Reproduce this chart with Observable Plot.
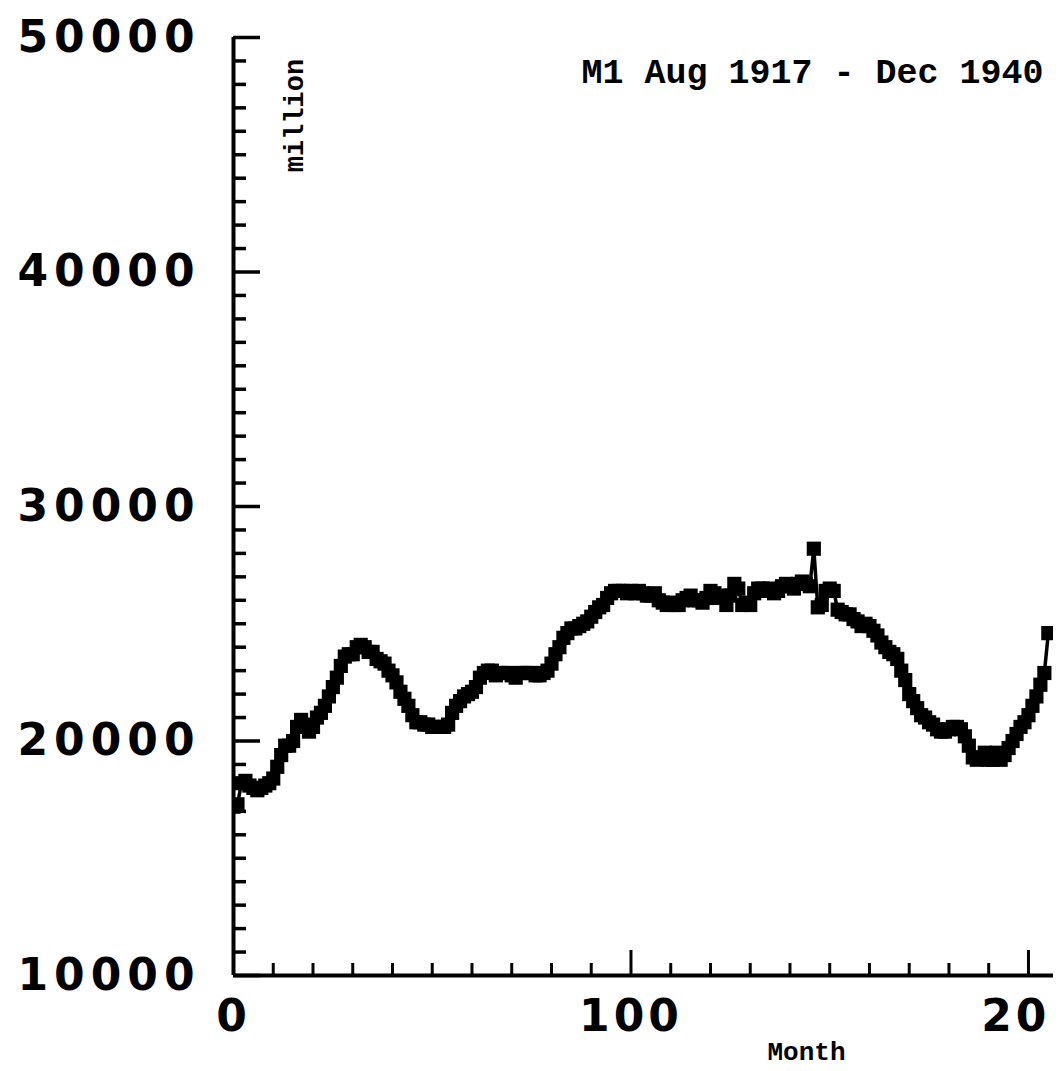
<!DOCTYPE html>
<html>
<head>
<meta charset="utf-8">
<script src="https://cdn.jsdelivr.net/npm/d3@7"></script>
<script src="https://cdn.jsdelivr.net/npm/@observablehq/plot@0.6"></script>
<style>
  body { margin: 0; background: #ffffff; }
  #chart svg { display: block; }
</style>
</head>
<body>
<div id="chart"></div>
<script>
// ---- Data ----
const title = "M1 Aug 1917 - Dec 1940";
const yLabel = "million";
const xLabel = "Month";

// M1 money stock, million, by month index (0 = Aug 1917)
const m1Values = [
  17200, 17300, 18200, 18300, 18100, 18000, 17900, 18000, 18100, 18200,
  18400, 18900, 19400, 19800, 19800, 20000, 20600, 20900, 20700, 20400,
  20600, 21000, 21200, 21500, 21900, 22300, 22700, 23200, 23600, 23700,
  23700, 24000, 24100, 24000, 23800, 23800, 23500, 23400, 23300, 23000,
  22800, 22500, 22100, 21800, 21500, 21100, 20800, 20800, 20700, 20700,
  20600, 20600, 20600, 20600, 20700, 21200, 21500, 21700, 21900, 22000,
  22100, 22300, 22700, 22900, 23000, 23000, 22800, 22900, 22900, 22900,
  22800, 22700, 22900, 22900, 22900, 22900, 22800, 22800, 22900, 23000,
  23300, 23700, 24000, 24400, 24600, 24800, 24800, 24900, 25000, 25100,
  25300, 25500, 25700, 25800, 26100, 26300, 26400, 26400, 26400, 26300,
  26400, 26300, 26400, 26300, 26200, 26200, 26300, 26000, 25900, 25800,
  25900, 25800, 25800, 26000, 26100, 26200, 26000, 26000, 25900, 26100,
  26400, 26300, 26100, 26200, 25800, 26200, 26700, 26500, 25800, 25900,
  25800, 26300, 26500, 26500, 26400, 26500, 26300, 26400, 26600, 26700,
  26600, 26500, 26700, 26800, 26700, 26600, 28200, 25700, 25800, 26400,
  26500, 26400, 25600, 25500, 25400, 25400, 25200, 25100, 24900, 25000,
  24900, 24700, 24500, 24200, 24000, 23800, 23700, 23500, 23000, 22600,
  22000, 21700, 21400, 21100, 21000, 20800, 20700, 20500, 20400, 20400,
  20500, 20600, 20600, 20500, 20200, 19800, 19300, 19200, 19300, 19500,
  19200, 19200, 19500, 19200, 19400, 19700, 20000, 20300, 20600, 20800,
  21100, 21500, 21900, 22400, 22900, 24600
];

const yMajorTicks = [10000, 20000, 30000, 40000, 50000];
const yMinorTicks = [11000,12000,13000,14000,15000,16000,17000,18000,19000,
                     21000,22000,23000,24000,25000,26000,27000,28000,29000,
                     31000,32000,33000,34000,35000,36000,37000,38000,39000,
                     41000,42000,43000,44000,45000,46000,47000,48000,49000];
const xMajorTicks = [0, 100, 200];
const xMinorTicks = [10,20,30,40,50,60,70,80,90,110,120,130,140,150,160,170,180,190];
// tick labels as they appear (the last one is cut at the right edge in the original)
const xLabelTicks = [0, 100, 200];
const xLabelTexts = ["0", "100", "20"];

const data = m1Values.map((v, i) => ({month: i, value: v}));

const labelFont = "DejaVu Sans";
const monoFont = "Liberation Mono";
const xLabelFmt = d => xLabelTexts[xLabelTicks.indexOf(d)];

const chart = Plot.plot({
  width: 1061,
  height: 1071,
  marginLeft: 233,
  marginRight: 8,
  marginTop: 37,
  marginBottom: 96,
  style: {background: "#ffffff", color: "#000000"},
  x: {domain: [0, 206.3], axis: null},
  y: {domain: [10000, 50000], axis: null},
  marks: [
    // series
    Plot.line(data, {x: "month", y: "value", stroke: "#000", strokeWidth: 3.5, clip: true}),
    Plot.dot(data, {x: "month", y: "value", symbol: "square", r: 8, fill: "#000", stroke: "none", clip: true}),
    // axis lines
    Plot.ruleX([0], {stroke: "#000", strokeWidth: 4}),
    Plot.ruleY([10000], {stroke: "#000", strokeWidth: 4}),
    // y ticks (inward)
    Plot.axisY(yMinorTicks, {tickSize: -13, fill: "none", label: null, stroke: "#000", strokeWidth: 3.5}),
    Plot.axisY(yMajorTicks, {tickSize: -27, fill: "none", label: null, stroke: "#000", strokeWidth: 3.5}),
    Plot.axisY(yMajorTicks, {tickSize: 0, tickPadding: 33, label: null, fill: "#000",
      fontFamily: labelFont, fontWeight: "bold", fontSize: 44, tickFormat: d => String(d)}),
    // x ticks (inward)
    Plot.axisX(xMinorTicks, {tickSize: -12, fill: "none", label: null, stroke: "#000", strokeWidth: 3}),
    Plot.axisX(xMajorTicks, {tickSize: -25, fill: "none", label: null, stroke: "#000", strokeWidth: 3}),
    Plot.axisX(xLabelTicks.slice(0, 2), {tickSize: 0, tickPadding: 24, label: null, fill: "#000",
      fontFamily: labelFont, fontWeight: "bold", fontSize: 44, tickFormat: xLabelFmt}),
    Plot.axisX(xLabelTicks.slice(2), {tickSize: 0, tickPadding: 24, label: null, fill: "#000",
      textAnchor: "end", dx: 22,
      fontFamily: labelFont, fontWeight: "bold", fontSize: 44, tickFormat: xLabelFmt}),
    // texts
    Plot.text([title], {frameAnchor: "top-right", textAnchor: "end", lineAnchor: "middle",
      dx: -10, dy: 34, fontFamily: monoFont, fontWeight: "bold", fontSize: 35, fill: "#000"}),
    Plot.text([yLabel], {frameAnchor: "top-left", textAnchor: "middle", lineAnchor: "middle",
      rotate: -90, dx: 61, dy: 78, fontFamily: monoFont, fontWeight: "bold", fontSize: 27, fill: "#000"}),
    Plot.text([xLabel], {frameAnchor: "bottom-left", textAnchor: "middle", lineAnchor: "middle",
      dx: 573, dy: 76, fontFamily: monoFont, fontWeight: "bold", fontSize: 26, fill: "#000"})
  ]
});

// letter spacing for the big tick labels
const sel = d3.select(chart);
sel.selectAll('g[aria-label="y-axis tick label"] text').attr("letter-spacing", 6);
sel.selectAll('g[aria-label="x-axis tick label"] text').attr("letter-spacing", 4);

document.getElementById("chart").appendChild(chart);
</script>
</body>
</html>
